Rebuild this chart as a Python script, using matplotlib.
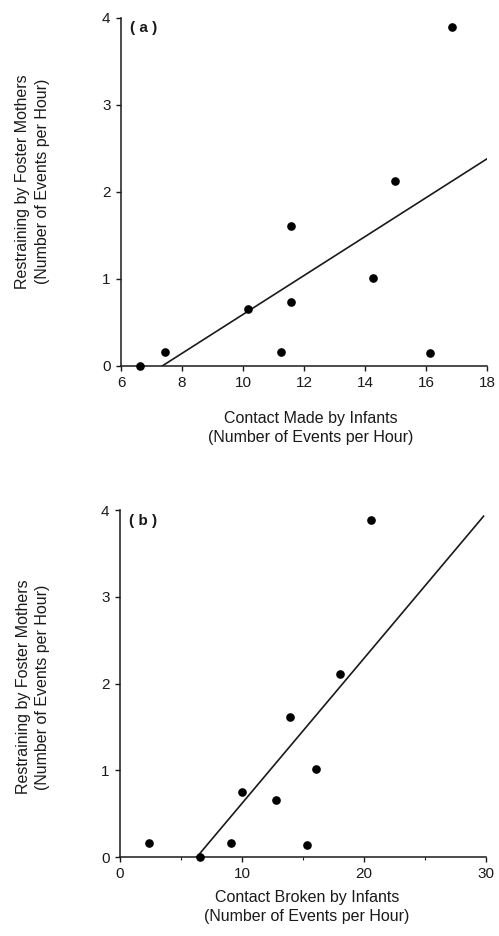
import numpy as np
import matplotlib
matplotlib.use("Agg")
import matplotlib.pyplot as plt

plt.rcParams['font.family'] = ['Liberation Sans', 'DejaVu Sans']

# panel (a): contact made by infants vs restraining
made_x = [6.63, 7.43, 10.15, 11.24, 11.57, 11.57, 14.25, 14.98, 16.13, 16.85]
made_y = [0.0, 0.16, 0.66, 0.16, 1.61, 0.74, 1.01, 2.12, 0.15, 3.89]
made_fit_x = [7.35, 18.0]
made_fit_y = [0.0, 2.38]

# panel (b): contact broken by infants vs restraining
broken_x = [2.35, 6.56, 9.12, 9.97, 12.79, 13.93, 15.36, 16.07, 18.03, 20.57]
broken_y = [0.16, 0.0, 0.16, 0.75, 0.66, 1.61, 0.14, 1.01, 2.11, 3.89]
broken_fit_x = [6.3, 29.8]
broken_fit_y = [0.0, 3.93]

ylabel = "Restraining by Foster Mothers\n(Number of Events per Hour)"
ink = '#1a1a1a'

fig = plt.figure(figsize=(4.99, 9.36), dpi=100)
ax_a = fig.add_axes([0.2425, 0.609, 0.7335, 0.372])
ax_b = fig.add_axes([0.2405, 0.0844, 0.7335, 0.3706])


def style(ax, xlim, xticks, xlabel, tag, xlab_pos, ylab_pos):
    ax.set_xlim(*xlim)
    ax.set_ylim(0, 4)
    ax.set_xticks(xticks)
    ax.set_yticks([0, 1, 2, 3, 4])
    for s in ['top', 'right']:
        ax.spines[s].set_visible(False)
    for s in ['left', 'bottom']:
        ax.spines[s].set_linewidth(1.1)
        ax.spines[s].set_color(ink)
    ax.tick_params(direction='out', length=3.5, width=1.0, labelsize=11,
                   colors=ink, pad=4)
    ax.set_xlabel(xlabel, fontsize=11.5, color=ink, linespacing=1.35)
    ax.set_ylabel(ylabel, fontsize=11.5, color=ink, linespacing=1.35)
    ax.xaxis.set_label_coords(*xlab_pos)
    ax.yaxis.set_label_coords(*ylab_pos)
    ax.text(0.025, 0.99, tag, transform=ax.transAxes, fontsize=11,
            fontweight='bold', va='top', ha='left', color=ink)


ax_a.plot(made_fit_x, made_fit_y, color=ink, lw=1.2)
ax_a.plot(made_x, made_y, 'o', color='black', ms=5.2, clip_on=False, zorder=5)
style(ax_a, (6, 18), [6, 8, 10, 12, 14, 16, 18],
      "Contact Made by Infants\n(Number of Events per Hour)", "( a )",
      (0.519, -0.128), (-0.195, 0.53))

ax_b.plot(broken_fit_x, broken_fit_y, color=ink, lw=1.2)
ax_b.plot(broken_x, broken_y, 'o', color='black', ms=5.2, clip_on=False, zorder=5)
style(ax_b, (0, 30), [0, 10, 20, 30],
      "Contact Broken by Infants\n(Number of Events per Hour)", "( b )",
      (0.511, -0.095), (-0.19, 0.49))
ax_b.set_xticks([5, 15, 25], minor=True)
ax_b.tick_params(axis='x', which='minor', direction='out', length=2, width=0.8, colors=ink)

fig.savefig("out.png", dpi=100)
